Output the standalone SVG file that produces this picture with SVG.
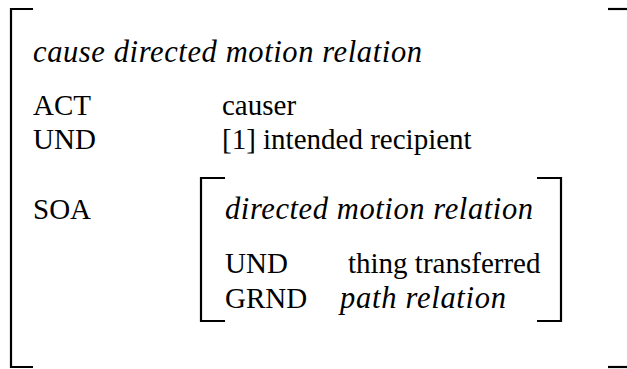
<svg xmlns="http://www.w3.org/2000/svg" width="627" height="369" viewBox="0 0 627 369">
<style>
.t{font-family:"Liberation Serif","Times New Roman",serif;font-size:29px;fill:#000}
.i{font-style:italic;font-size:30.5px}
.b{fill:none;stroke:#000;stroke-width:2.2}
</style>
<rect width="627" height="369" fill="#fff"/>
<g id="outer-bracket">
<path class="b" d="M33 9 H11 V367 H33"/>
<path class="b" d="M608 9 H627"/>
<path class="b" d="M608 367 H627"/>
</g>
<g id="outer-frame">
<text class="t i" x="33" y="62" textLength="389">cause directed motion relation</text>
<text class="t" x="33" y="115">ACT</text>
<text class="t" x="222" y="115">causer</text>
<text class="t" x="33" y="149">UND</text>
<text class="t" x="222" y="149">[1] intended recipient</text>
<text class="t" x="33" y="219">SOA</text>
</g>
<g id="inner-frame">
<path class="b" d="M225 178 H201 V321 H225"/>
<path class="b" d="M537 178 H561 V321 H537"/>
<text class="t i" x="225" y="219" textLength="308">directed motion relation</text>
<text class="t" x="225" y="273">UND</text>
<text class="t" x="348" y="273">thing transferred</text>
<text class="t" x="225" y="308">GRND</text>
<text class="t i" x="340" y="308" textLength="166">path relation</text>
</g>
</svg>
